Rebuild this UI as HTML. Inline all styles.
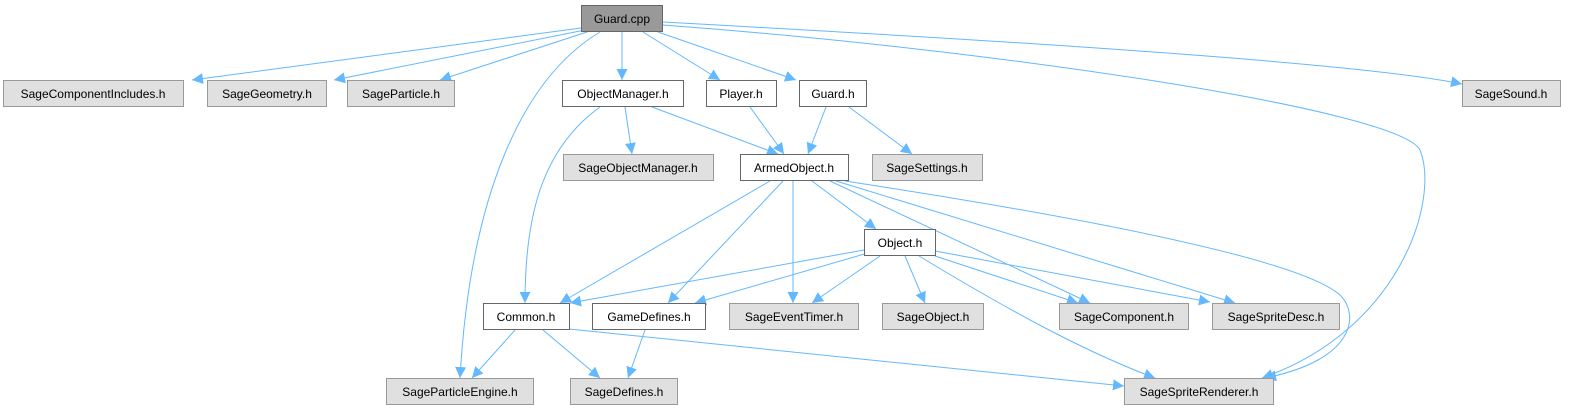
<!DOCTYPE html>
<html><head><meta charset="utf-8"><style>
html,body{margin:0;padding:0;background:#fff;}
svg text{font-family:"Liberation Sans",Arial,sans-serif;font-size:12px;fill:#000;text-anchor:middle;}
</style></head><body>
<svg width="1570" height="411" viewBox="0 0 1570 411" xmlns="http://www.w3.org/2000/svg">
<defs><marker id="a" viewBox="0 0 10 10" refX="10" refY="5" markerWidth="11" markerHeight="11" markerUnits="userSpaceOnUse" orient="auto"><path d="M0,0L10,5L0,10z" fill="#63b8ff"/></marker></defs>
<g fill="none" stroke="#63b8ff" stroke-width="1" marker-end="url(#a)">
<path d="M581,28 L192,80"/>
<path d="M585,30 L334,80"/>
<path d="M590,31 L440,80"/>
<path d="M600,32 C520,80 470,200 460,378"/>
<path d="M622,32 L622,80"/>
<path d="M643,32 L720,80"/>
<path d="M658,32 L796,80"/>
<path d="M663,22 C900,35 1350,60 1462,84"/>
<path d="M663,25 C1000,50 1400,110 1420,150 C1440,200 1400,330 1262,378"/>
<path d="M600,107 C540,150 525,220 525,303"/>
<path d="M625,107 L632,154"/>
<path d="M652,107 L778,154"/>
<path d="M750,107 L784,154"/>
<path d="M826,107 L808,154"/>
<path d="M849,107 L912,154"/>
<path d="M770,181 L560,303"/>
<path d="M783,181 L668,303"/>
<path d="M793,181 L793,303"/>
<path d="M812,181 L876,229"/>
<path d="M830,181 L1090,303"/>
<path d="M836,181 L1235,303"/>
<path d="M845,181 C1100,220 1300,260 1340,295 C1360,315 1355,360 1265,378"/>
<path d="M864,250 L570,303"/>
<path d="M868,253 L695,303"/>
<path d="M880,256 L812,303"/>
<path d="M905,256 L925,303"/>
<path d="M919,256 C1000,305 1080,350 1155,378"/>
<path d="M935,256 L1078,303"/>
<path d="M935,251 L1210,302"/>
<path d="M515,330 L472,378"/>
<path d="M543,330 L600,378"/>
<path d="M645,330 L628,378"/>
<path d="M569,329 L1124,386"/>
</g>
<g stroke-width="1">
<rect x="581.5" y="5.5" width="81" height="26" fill="#999" stroke="#666"/>
<g fill="#e0e0e0" stroke="#999">
<rect x="3.5" y="80.5" width="180" height="26"/>
<rect x="207.5" y="80.5" width="119" height="26"/>
<rect x="347.5" y="80.5" width="107" height="26"/>
<rect x="1462.5" y="80.5" width="98" height="26"/>
<rect x="563.5" y="154.5" width="150" height="26"/>
<rect x="872.5" y="154.5" width="110" height="26"/>
<rect x="729.5" y="303.5" width="129" height="26"/>
<rect x="882.5" y="303.5" width="101" height="26"/>
<rect x="1059.5" y="303.5" width="129" height="26"/>
<rect x="1212.5" y="303.5" width="127" height="26"/>
<rect x="386.5" y="378.5" width="147" height="26"/>
<rect x="570.5" y="378.5" width="107" height="26"/>
<rect x="1124.5" y="378.5" width="149" height="26"/>
</g>
<g fill="#fff" stroke="#666">
<rect x="562.5" y="80.5" width="121" height="26"/>
<rect x="706.5" y="80.5" width="70" height="26"/>
<rect x="799.5" y="80.5" width="67" height="26"/>
<rect x="740.5" y="154.5" width="108" height="26"/>
<rect x="864.5" y="229.5" width="71" height="26"/>
<rect x="483.5" y="303.5" width="86" height="26"/>
<rect x="592.5" y="303.5" width="113" height="26"/>
</g>
</g>
<text x="622" y="23">Guard.cpp</text>
<text x="93" y="98">SageComponentIncludes.h</text>
<text x="267" y="98">SageGeometry.h</text>
<text x="401" y="98">SageParticle.h</text>
<text x="623" y="98">ObjectManager.h</text>
<text x="741" y="98">Player.h</text>
<text x="833" y="98">Guard.h</text>
<text x="1511" y="98">SageSound.h</text>
<text x="638" y="172">SageObjectManager.h</text>
<text x="794" y="172">ArmedObject.h</text>
<text x="927" y="172">SageSettings.h</text>
<text x="900" y="247">Object.h</text>
<text x="526" y="321">Common.h</text>
<text x="649" y="321">GameDefines.h</text>
<text x="794" y="321">SageEventTimer.h</text>
<text x="933" y="321">SageObject.h</text>
<text x="1124" y="321">SageComponent.h</text>
<text x="1276" y="321">SageSpriteDesc.h</text>
<text x="460" y="396">SageParticleEngine.h</text>
<text x="624" y="396">SageDefines.h</text>
<text x="1199" y="396">SageSpriteRenderer.h</text>
</svg>
</body></html>
